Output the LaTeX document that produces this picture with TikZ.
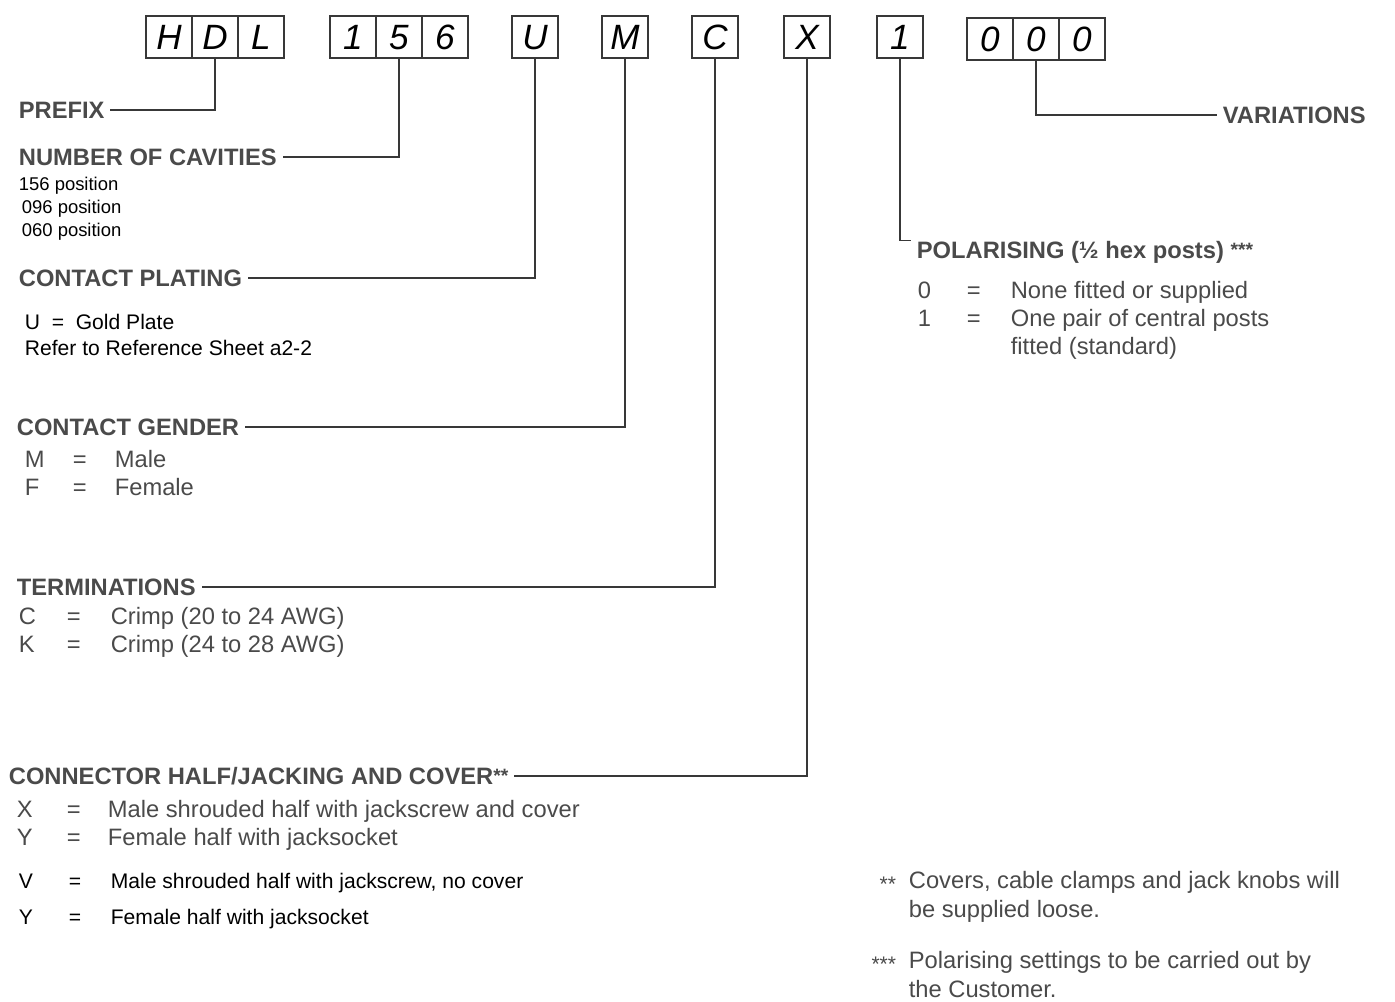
\documentclass[tikz,border=0pt]{standalone}
\usepackage{fontspec}
\setmainfont{Liberation Sans}
\usetikzlibrary{positioning}
\definecolor{scan}{HTML}{4A4A4A}
\definecolor{rule}{HTML}{383838}

\begin{document}
\begin{tikzpicture}[x=0.02cm, y=-0.02cm, line width=1pt, draw=rule, font=\fontsize{13.5}{16.4}\selectfont]
    \tikzstyle{cell}=[draw=rule, line width=0.9pt, rectangle, minimum width=0.92cm, minimum height=0.84cm, inner sep=0pt, outer sep=0pt, text height=14pt, text depth=0pt, font=\fontsize{20}{20}\selectfont\itshape]
    \tikzstyle{head}=[anchor=west, text=scan, font=\fontsize{13.5}{16}\selectfont\bfseries, inner xsep=0.1cm, inner ysep=0pt, text depth=0pt]
    \tikzstyle{item}=[anchor=base west, text=scan, inner sep=0pt, align=left]
    \tikzstyle{plain}=[anchor=base west, inner sep=0pt, align=left, font=\fontsize{12}{14.7}\selectfont]

    \useasboundingbox (0,0) rectangle (1395,1001);

    % code boxes
    \node[cell] (h) at (169,37) {H};
    \node[cell, right=0pt of h] (d) {D};
    \node[cell, right=0pt of d] (l) {L};
    \node[cell] (n1) at (353,37) {1};
    \node[cell, right=0pt of n1] (n5) {5};
    \node[cell, right=0pt of n5] (n6) {6};
    \node[cell] (u) at (535,37) {U};
    \node[cell] (m) at (625,37) {M};
    \node[cell] (c) at (715,37) {C};
    \node[cell] (x) at (807,37) {X};
    \node[cell] (one) at (900,37) {1};
    \node[cell] (z1) at (990,39) {0};
    \node[cell, right=0pt of z1] (z2) {0};
    \node[cell, right=0pt of z2] (z3) {0};

    % headings
    \node[head] (prefix) at (13,110) {PREFIX};
    \node[head] (cav) at (13,157) {NUMBER OF CAVITIES};
    \node[head] (plat) at (13,278) {CONTACT PLATING};
    \node[head] (gend) at (11,427) {CONTACT GENDER};
    \node[head] (term) at (11,587) {TERMINATIONS};
    \node[head] (conn) at (3,776) {CONNECTOR HALF/JACKING AND COVER\raisebox{1pt}{\fontsize{11}{11}\selectfont**}};
    \node[head] (pol) at (911,250) {POLARISING (½ hex posts) \raisebox{1pt}{\fontsize{11}{11}\selectfont***}};
    \node[head] (var) at (1217,115) {VARIATIONS};

    \draw (d.south) |- (prefix.east);
    \draw (n5.south) |- (cav.east);
    \draw (u.south) |- (plat.east);
    \draw (m.south) |- (gend.east);
    \draw (c.south) |- (term.east);
    \draw (x.south) |- (conn.east);
    \draw (one.south) |- (pol.north west);
    \draw (z2.south) |- (var.west);

    % option lists (base = last line)
    \node[plain, font=\fontsize{10.5}{13}\selectfont] (cavl) at (18,236) {156 position\\\hspace*{0.06cm}096 position\\\hspace*{0.06cm}060 position};
    \node[plain] (platl) at (24,355) {U~~=~~Gold Plate\\Refer to Reference Sheet a2-2};
    \node[item] (gendl) at (24,467) {\begin{tabular}[t]{@{}p{0.96cm}@{}p{0.84cm}@{}l@{}}
        M & = & Male\\ F & = & Female\end{tabular}};
    \node[item] (terml) at (18,624) {\begin{tabular}[t]{@{}p{0.96cm}@{}p{0.88cm}@{}l@{}}
        C & = & Crimp (20 to 24 AWG)\\ K & = & Crimp (24 to 28 AWG)\end{tabular}};
    \node[item] (connl) at (16,817) {\begin{tabular}[t]{@{}p{1.0cm}@{}p{0.82cm}@{}l@{}}
        X & = & Male shrouded half with jackscrew and cover\\ Y & = & Female half with jacksocket\end{tabular}};
    \node[plain] (connl2) at (18,888) {\def\arraystretch{1.43}\begin{tabular}[t]{@{}p{1.0cm}@{}p{0.84cm}@{}l@{}}
        V & = & Male shrouded half with jackscrew, no cover\\ Y & = & Female half with jacksocket\end{tabular}};
    \node[item] (poll) at (917,298) {\def\arraystretch{0.98}\begin{tabular}[t]{@{}p{0.98cm}@{}p{0.88cm}@{}l@{}}
        0 & = & None fitted or supplied\\ 1 & = & One pair of central posts\\ & & fitted (standard)\end{tabular}};

    % footnotes
    \node[item, anchor=base east] (fn2) at (897,891) {\fontsize{12}{12}\selectfont**};
    \node[item] (fn2t) at (908,917) {\fontsize{13.5}{14.7}\selectfont Covers, cable clamps and jack knobs will\\be supplied loose.};
    \node[item, anchor=base east] (fn3) at (897,971) {\fontsize{12}{12}\selectfont***};
    \node[item] (fn3t) at (908,997) {\fontsize{13.5}{14.7}\selectfont Polarising settings to be carried out by\\the Customer.};
\end{tikzpicture}
\end{document}
